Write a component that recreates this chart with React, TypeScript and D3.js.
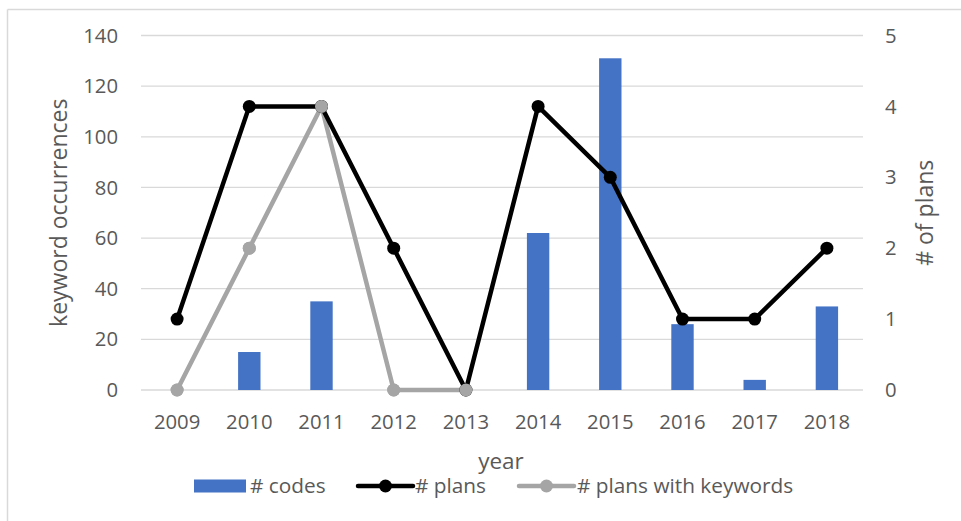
import React from "react";
import * as d3 from "d3";

const years = ["2009", "2010", "2011", "2012", "2013", "2014", "2015", "2016", "2017", "2018"];
const codes = [0, 15, 35, 0, 0, 62, 131, 26, 4, 33];
const plans = [1, 4, 4, 2, 0, 4, 3, 1, 1, 2];
const plansWithKeywords: (number | null)[] = [0, 2, 4, 0, 0, null, null, null, null, null];
const leftTicks = [0, 20, 40, 60, 80, 100, 120, 140];
const rightTicks = [0, 1, 2, 3, 4, 5];

const W = 961;
const H = 521;
const M = { left: 141, right: 863, top: 35.5, bottom: 390 };
const FONT = "'Open Sans', sans-serif";
const TXT = "#595959";
const TICK = 20.3;

export default function App() {
  const x = d3.scaleBand<string>().domain(years).range([M.left, M.right]).paddingInner(0).paddingOuter(0);
  const yL = d3.scaleLinear().domain([0, 140]).range([M.bottom, M.top]);
  const yR = d3.scaleLinear().domain([0, 5]).range([M.bottom, M.top]);
  const barW = x.bandwidth() * 0.31;
  const cx = (y: string) => (x(y) as number) + x.bandwidth() / 2;

  const linePlans = d3
    .line<number>()
    .x((_, i) => cx(years[i]))
    .y((d) => yR(d));
  const kwData = plansWithKeywords
    .map((v, i) => ({ v, i }))
    .filter((d) => d.v !== null) as { v: number; i: number }[];
  const lineKw = d3
    .line<{ v: number; i: number }>()
    .x((d) => cx(years[d.i]))
    .y((d) => yR(d.v));

  return (
    <svg
      width={W}
      height={H}
      style={{ position: "absolute", left: 0, top: 0, background: "#fff" }}
      fontFamily={FONT}
    >
      <rect x={0} y={0} width={W} height={H} fill="#fff" />
      <line x1={7.5} x2={W} y1={9.5} y2={9.5} stroke="#d9d9d9" strokeWidth={1.5} />
      <line x1={7.5} x2={7.5} y1={9.5} y2={H} stroke="#d9d9d9" strokeWidth={1.5} />

      {leftTicks.map((t) => (
        <line key={"g" + t} x1={M.left} x2={M.right} y1={yL(t)} y2={yL(t)} stroke="#d9d9d9" strokeWidth={1.3} />
      ))}

      {leftTicks.map((t) => (
        <text key={"l" + t} x={118} y={yL(t)} dy="0.35em" textAnchor="end" fontSize={TICK} fill={TXT}>
          {t}
        </text>
      ))}
      {rightTicks.map((t) => (
        <text key={"r" + t} x={885} y={yR(t)} dy="0.35em" textAnchor="start" fontSize={TICK} fill={TXT}>
          {t}
        </text>
      ))}
      {years.map((yv) => (
        <text key={"x" + yv} x={cx(yv)} y={422} dy="0.35em" textAnchor="middle" fontSize={TICK} fill={TXT}>
          {yv}
        </text>
      ))}

      {codes.map((v, i) =>
        v > 0 ? (
          <rect
            key={"b" + i}
            x={cx(years[i]) - barW / 2}
            y={yL(v)}
            width={barW}
            height={yL(0) - yL(v)}
            fill="#4472c4"
          />
        ) : null
      )}

      <path d={lineKw(kwData) || ""} fill="none" stroke="#a5a5a5" strokeWidth={4.5} strokeLinejoin="round" />
      {kwData.map((d) => (
        <circle key={"k" + d.i} cx={cx(years[d.i])} cy={yR(d.v)} r={6.5} fill="#a5a5a5" />
      ))}

      <path d={linePlans(plans) || ""} fill="none" stroke="#000" strokeWidth={4.5} strokeLinejoin="round" />
      {plans.map((v, i) => (
        <circle key={"p" + i} cx={cx(years[i])} cy={yR(v)} r={6.5} fill="#000" />
      ))}
      {kwData.map((d) => (
        <circle key={"k2" + d.i} cx={cx(years[d.i])} cy={yR(d.v)} r={6.5} fill="#a5a5a5" />
      ))}

      <text
        transform={`translate(59,${(M.top + M.bottom) / 2}) rotate(-90)`}
        dy="0.35em"
        textAnchor="middle"
        fontSize={23}
        fill={TXT}
      >
        keyword occurrences
      </text>
      <text
        transform={`translate(925,${(M.top + M.bottom) / 2}) rotate(-90)`}
        dy="0.35em"
        textAnchor="middle"
        fontSize={23}
        fill={TXT}
      >
        # of plans
      </text>
      <text x={501} y={461} dy="0.35em" textAnchor="middle" fontSize={22.5} fill={TXT}>
        year
      </text>

      <rect x={194} y={479.5} width={52} height={13} fill="#4472c4" />
      <text x={250} y={486} dy="0.35em" fontSize={20.8} fill={TXT}>
        # codes
      </text>
      <line x1={358} x2={413} y1={486} y2={486} stroke="#000" strokeWidth={4.5} strokeLinecap="round" />
      <circle cx={385.5} cy={486} r={6.5} fill="#000" />
      <text x={415} y={486} dy="0.35em" fontSize={20.8} fill={TXT}>
        # plans
      </text>
      <line x1={519} x2={574} y1={486} y2={486} stroke="#a5a5a5" strokeWidth={4.5} strokeLinecap="round" />
      <circle cx={546.5} cy={486} r={6.5} fill="#a5a5a5" />
      <text x={577} y={486} dy="0.35em" fontSize={20.8} fill={TXT}>
        # plans with keywords
      </text>
    </svg>
  );
}
